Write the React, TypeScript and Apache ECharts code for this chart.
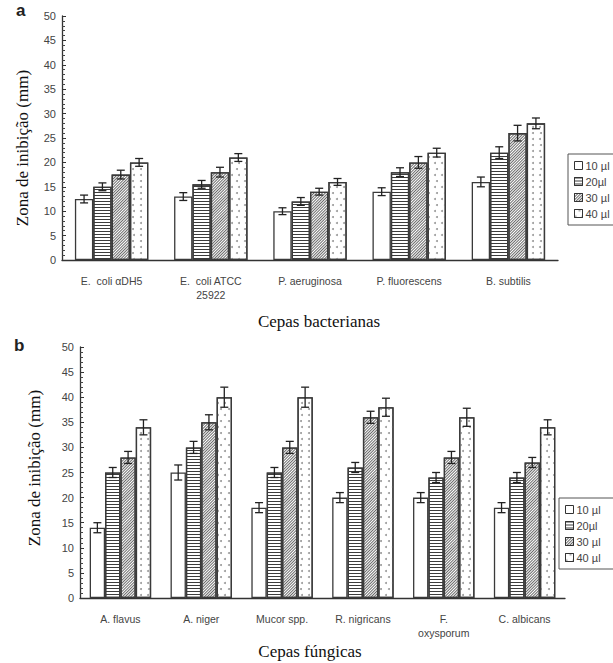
import React, { useEffect, useRef } from "react";
import * as echarts from "echarts";

const concentrations = ["10 µl", "20µl", "30 µl", "40 µl"];

const bacteriaCats = ["E.  coli αDH5", "E.  coli ATCC\n25922", "P. aeruginosa", "P. fluorescens", "B. subtilis"];
const bac10 = [12.5, 13, 10, 14, 16];
const bac20 = [15, 15.5, 12, 18, 22];
const bac30 = [17.5, 18, 14, 20, 26];
const bac40 = [20, 21, 16, 22, 28];
const bacErr10 = [0.8, 0.8, 0.7, 0.8, 1];
const bacErr20 = [0.8, 0.8, 0.8, 0.9, 1.2];
const bacErr30 = [0.9, 1, 0.7, 1.2, 1.6];
const bacErr40 = [0.8, 0.8, 0.7, 0.9, 1.1];

const fungiCats = ["A. flavus", "A. niger", "Mucor spp.", "R. nigricans", "F.\noxysporum", "C. albicans"];
const fun10 = [14, 25, 18, 20, 20, 18];
const fun20 = [25, 30, 25, 26, 24, 24];
const fun30 = [28, 35, 30, 36, 28, 27];
const fun40 = [34, 40, 40, 38, 36, 34];
const funErr10 = [1, 1.5, 1, 1, 1, 1];
const funErr20 = [1, 1.2, 1, 1, 1, 1];
const funErr30 = [1.2, 1.5, 1.2, 1.2, 1.2, 1];
const funErr40 = [1.5, 2, 2, 1.8, 1.8, 1.5];

const yTicks = [0, 5, 10, 15, 20, 25, 30, 35, 40, 45, 50];

const barBorder = "#3a3a3a";
const decals: any[] = [
  null,
  {
    symbol: "rect",
    symbolSize: 1,
    symbolKeepAspect: false,
    color: "#3c3c3c",
    backgroundColor: "#f4f4f4",
    dashArrayX: [[1, 0]],
    dashArrayY: [1, 2],
  },
  {
    symbol: "rect",
    symbolSize: 1,
    symbolKeepAspect: false,
    color: "#6a6a6a",
    backgroundColor: "#cfcfcf",
    dashArrayX: [[1, 0]],
    dashArrayY: [1, 1],
    rotation: -Math.PI / 4,
  },
  {
    symbol: "circle",
    symbolSize: 1,
    color: "#9a9a9a",
    backgroundColor: "#fbfbfb",
    dashArrayX: [[1.4, 5], [0, 3.2, 1.4, 1.8]],
    dashArrayY: [1.4, 4],
  },
];

function makeErrorSeries(
  gridIdx: number,
  values: number[][],
  errs: number[][],
  gapRatio: number
) {
  const data: number[][] = [];
  values.forEach((arr, k) => {
    arr.forEach((v, c) => {
      data.push([c, k, v, errs[k][c]]);
    });
  });
  return {
    type: "custom",
    xAxisIndex: gridIdx,
    yAxisIndex: gridIdx,
    silent: true,
    z: 10,
    encode: { x: 0, y: 2 },
    data,
    renderItem: (params: any, api: any) => {
      const cat = api.value(0);
      const k = api.value(1);
      const v = api.value(2);
      const e = api.value(3);
      const catW = api.size([1, 0])[0];
      const groupW = catW * (1 - gapRatio);
      const bw = groupW / 4;
      const c = api.coord([cat, v]);
      const x = c[0] - groupW / 2 + bw * (k + 0.5);
      const yt = api.coord([cat, v + e])[1];
      const yb = api.coord([cat, v - e])[1];
      const hw = 4;
      const style = { stroke: "#222", lineWidth: 1.3 };
      return {
        type: "group",
        children: [
          { type: "line", shape: { x1: x, y1: yt, x2: x, y2: yb }, style },
          { type: "line", shape: { x1: x - hw, y1: yt, x2: x + hw, y2: yt }, style },
          { type: "line", shape: { x1: x - hw, y1: yb, x2: x + hw, y2: yb }, style },
        ],
      };
    },
  };
}

function makeBars(gridIdx: number, values: number[][], gap: string) {
  return values.map((arr, k) => ({
    type: "bar",
    name: concentrations[k],
    xAxisIndex: gridIdx,
    yAxisIndex: gridIdx,
    data: arr,
    barGap: "0%",
    barCategoryGap: gap,
    itemStyle: {
      color: "#ffffff",
      borderColor: barBorder,
      borderWidth: 1.3,
      decal: decals[k] || undefined,
    },
  }));
}

const labelFont = "'Liberation Sans', Arial, sans-serif";
const serif = "'Liberation Serif', 'Times New Roman', serif";

function xAxisCfg(gridIdx: number, cats: string[]) {
  return {
    type: "category",
    gridIndex: gridIdx,
    data: cats,
    axisLine: { lineStyle: { color: "#333", width: 1.3 } },
    axisTick: { inside: true, length: 5, lineStyle: { color: "#333", width: 1.3 } },
    axisLabel: {
      color: "#444",
      fontFamily: labelFont,
      fontSize: 10.5,
      margin: 14,
      lineHeight: 14,
      interval: 0,
    },
    splitLine: { show: false },
  };
}

function yAxisCfg(gridIdx: number) {
  return {
    type: "value",
    gridIndex: gridIdx,
    min: yTicks[0],
    max: yTicks[yTicks.length - 1],
    interval: 5,
    axisLine: { show: true, lineStyle: { color: "#333", width: 1.3 } },
    axisTick: { show: true, inside: true, length: 4, lineStyle: { color: "#333" } },
    minorTick: { show: true, splitNumber: 5, length: 3, lineStyle: { color: "#444" } },
    axisLabel: { color: "#444", fontFamily: labelFont, fontSize: 11, margin: 6 },
    splitLine: { show: false },
  };
}

export default function App() {
  const ref = useRef<HTMLDivElement>(null);
  useEffect(() => {
    if (!ref.current) return;
    const chart = echarts.init(ref.current, undefined, { renderer: "svg" });
    const bacVals = [bac10, bac20, bac30, bac40];
    const bacErrs = [bacErr10, bacErr20, bacErr30, bacErr40];
    const funVals = [fun10, fun20, fun30, fun40];
    const funErrs = [funErr10, funErr20, funErr30, funErr40];

    const legendCommon = {
      orient: "vertical",
      icon: "rect",
      itemWidth: 8,
      itemHeight: 8,
      itemGap: 5,
      borderColor: "#555",
      borderWidth: 1,
      padding: [6, 30, 6, 6],
      textStyle: { color: "#444", fontFamily: labelFont, fontSize: 11, padding: [0, 0, 0, -2] },
      itemStyle: { borderColor: "#333", borderWidth: 1 },
      data: concentrations,
    };

    chart.setOption({
      animation: false,
      backgroundColor: "#ffffff",
      grid: [
        { left: 62, top: 16, width: 496, height: 244 },
        { left: 80, top: 347, width: 485, height: 251 },
      ],
      xAxis: [xAxisCfg(0, bacteriaCats), xAxisCfg(1, fungiCats)],
      yAxis: [yAxisCfg(0), yAxisCfg(1)],
      legend: [
        { ...legendCommon, left: 568, top: 154 },
        { ...legendCommon, left: 559, top: 498 },
      ],
      series: [
        ...makeBars(0, bacVals, "26%"),
        makeErrorSeries(0, bacVals, bacErrs, 0.26),
        ...makeBars(1, funVals, "24%"),
        makeErrorSeries(1, funVals, funErrs, 0.24),
      ],
      graphic: [
        {
          type: "text",
          left: 16,
          top: 2,
          style: { text: "a", font: "bold 17px 'Liberation Sans', Arial, sans-serif", fill: "#222" },
        },
        {
          type: "text",
          left: 14,
          top: 337,
          style: { text: "b", font: "bold 17px 'Liberation Sans', Arial, sans-serif", fill: "#222" },
        },
        {
          type: "text",
          x: 22,
          y: 148,
          rotation: Math.PI / 2,
          style: {
            text: "Zona de inibição (mm)",
            font: "17px " + serif,
            fill: "#111",
            align: "center",
            verticalAlign: "middle",
          },
        },
        {
          type: "text",
          x: 34,
          y: 468,
          rotation: Math.PI / 2,
          style: {
            text: "Zona de inibição (mm)",
            font: "17px " + serif,
            fill: "#111",
            align: "center",
            verticalAlign: "middle",
          },
        },
        {
          type: "text",
          x: 319,
          y: 321,
          style: {
            text: "Cepas bacterianas",
            font: "17px " + serif,
            fill: "#111",
            align: "center",
            verticalAlign: "middle",
          },
        },
        {
          type: "text",
          x: 310,
          y: 651,
          style: {
            text: "Cepas fúngicas",
            font: "17px " + serif,
            fill: "#111",
            align: "center",
            verticalAlign: "middle",
          },
        },
      ],
    });
    return () => chart.dispose();
  }, []);
  return (
    <div
      ref={ref}
      style={{ position: "absolute", left: 0, top: 0, width: 613, height: 663, overflow: "hidden" }}
    />
  );
}
